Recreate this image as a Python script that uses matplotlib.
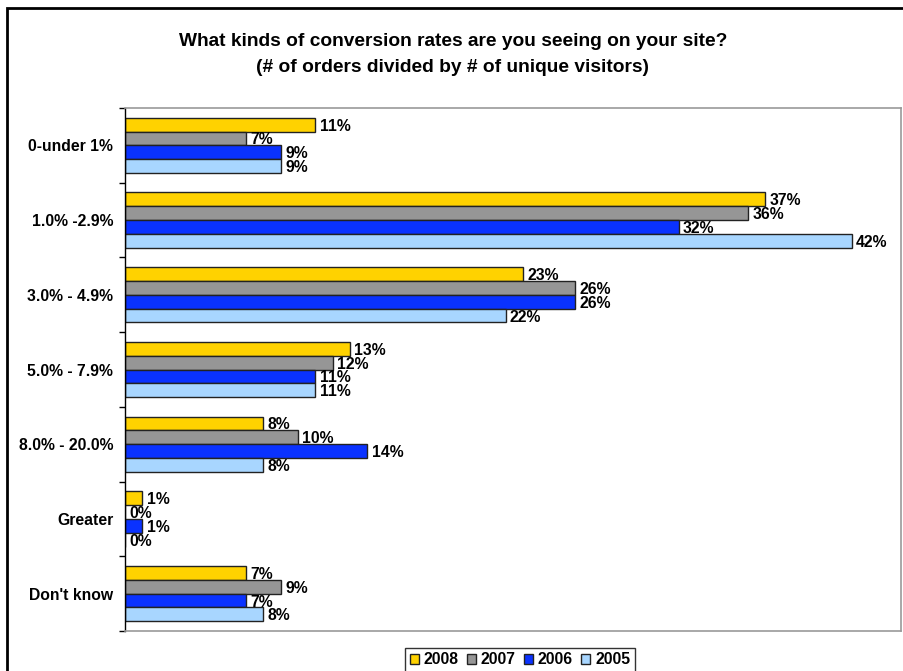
import numpy as np
import matplotlib.pyplot as plt
from matplotlib.patches import Rectangle

plt.rcParams["font.family"] = ["Liberation Sans", "DejaVu Sans"]

categories = ["0-under 1%", "1.0% -2.9%", "3.0% - 4.9%", "5.0% - 7.9%",
              "8.0% - 20.0%", "Greater", "Don't know"]
years = ["2008", "2007", "2006", "2005"]
v2008 = [11, 37, 23, 13, 8, 1, 7]
v2007 = [7, 36, 26, 12, 10, 0, 9]
v2006 = [9, 32, 26, 11, 14, 1, 7]
v2005 = [9, 42, 22, 11, 8, 0, 8]
series = [v2008, v2007, v2006, v2005]
colors = ["#FFD200", "#969696", "#0A32FF", "#A8D6FF"]

W, H = 904, 671
fig = plt.figure(figsize=(W / 100, H / 100), dpi=100)
ax = fig.add_axes([125 / W, 1 - 631 / H, (901 - 125) / W, (631 - 108) / H])

# outer frame of the chart
fig.add_artist(Rectangle((7 / W, -0.05), 1.1, 1 - 8 / H + 0.05,
                         transform=fig.transFigure, fill=False,
                         edgecolor="black", lw=2))

n = len(categories)
bh = 0.185
y0 = np.arange(n)
for i, (vals, col, lab) in enumerate(zip(series, colors, years)):
    ys = y0 - 1.5 * bh + i * bh
    ax.barh(ys, vals, height=bh, color=col, edgecolor="#222222",
            linewidth=1, label=lab)
    for y, v in zip(ys, vals):
        ax.text(v + 0.25, y + 0.02, f"{v}%", ha="left", va="center",
                fontsize=11.3, fontweight="bold")

ax.set_xlim(0, 44.85)
ax.set_ylim(n - 0.5, -0.5)
ax.set_xticks([])
ax.set_yticks(y0)
ax.set_yticklabels(categories, fontsize=11.3, fontweight="bold")
ax.set_yticks(np.arange(n + 1) - 0.5, minor=True)
ax.tick_params(axis="y", which="major", length=0, pad=8.5)
ax.tick_params(axis="y", which="minor", length=4, width=1, color="black")

for s in ("top", "right", "bottom"):
    ax.spines[s].set_color("#999999")
    ax.spines[s].set_linewidth(1.2)
ax.spines["left"].set_color("black")
ax.spines["left"].set_linewidth(1)

fig.text(453 / W, 1 - 42 / H,
         "What kinds of conversion rates are you seeing on your site?",
         ha="center", va="center", fontsize=13.8, fontweight="bold")
fig.text(453 / W, 1 - 68 / H,
         "(# of orders divided by # of unique visitors)",
         ha="center", va="center", fontsize=13.8, fontweight="bold")

leg = fig.legend(loc="center", bbox_to_anchor=(520 / W, 1 - 660 / H), ncol=4,
                 frameon=True, fancybox=False, edgecolor="black",
                 prop={"size": 11.3, "weight": "bold"},
                 handlelength=0.6, handleheight=0.6, handletextpad=0.3,
                 columnspacing=0.5, borderpad=0.3)
leg.get_frame().set_linewidth(1)

fig.savefig("out.png", dpi=100)
